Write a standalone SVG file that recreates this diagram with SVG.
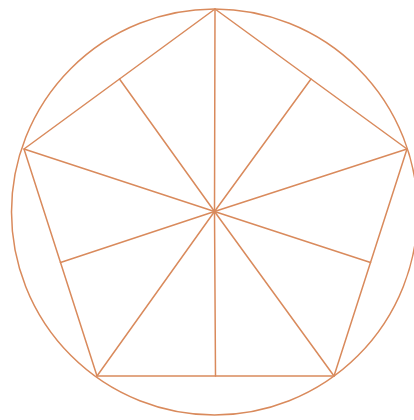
<svg xmlns="http://www.w3.org/2000/svg" width="414" height="420" viewBox="0 0 414 420">
<style>
.s{fill:none;stroke:#D98A5C;stroke-width:1.5;stroke-linecap:round;stroke-linejoin:round}
</style>
<rect width="414" height="420" fill="#ffffff"/>
<g id="circle"><circle class="s" cx="214.5" cy="212" r="203"/></g>
<g id="pentagon"><polygon class="s" points="215,9 407,149 334,376 97,376 24,149"/></g>
<g id="connectors">
<line class="s" x1="214.5" y1="211.5" x2="215" y2="9"/>
<line class="s" x1="214.5" y1="211.5" x2="407" y2="149"/>
<line class="s" x1="214.5" y1="211.5" x2="334" y2="376"/>
<line class="s" x1="214.5" y1="211.5" x2="97" y2="376"/>
<line class="s" x1="214.5" y1="211.5" x2="24" y2="149"/>
<line class="s" x1="214.5" y1="211.5" x2="311" y2="79"/>
<line class="s" x1="214.5" y1="211.5" x2="370.5" y2="262.5"/>
<line class="s" x1="214.5" y1="211.5" x2="215.5" y2="376"/>
<line class="s" x1="214.5" y1="211.5" x2="60.5" y2="262.5"/>
<line class="s" x1="214.5" y1="211.5" x2="119.5" y2="79"/>
</g>
</svg>
